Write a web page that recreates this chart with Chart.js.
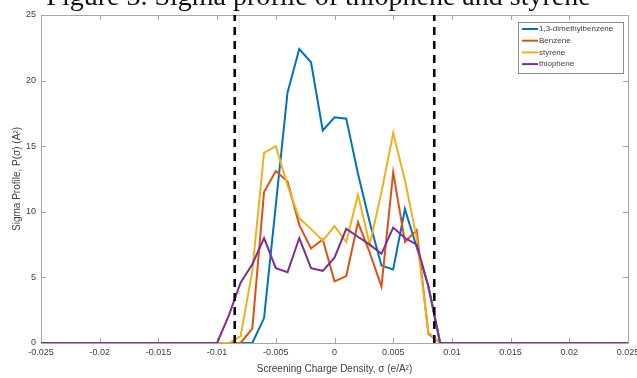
<!DOCTYPE html>
<html>
<head>
<meta charset="utf-8">
<script src="https://cdn.jsdelivr.net/npm/chart.js@4/dist/chart.umd.min.js"></script>
<style>
  html, body { margin: 0; padding: 0; background: #fff; }
  #wrap { position: relative; width: 637px; height: 378px; overflow: hidden; }
  #caption {
    position: absolute; left: 0; width: 637px; top: -20px; text-align: center;
    font-family: "Liberation Serif", "Times New Roman", serif; font-size: 28px; line-height: 32px; color: #111;
    white-space: nowrap; pointer-events: none;
  }
</style>
</head>
<body>
<div id="wrap">
  <canvas id="chart" width="637" height="378"></canvas>
  <div id="caption">Figure 3. Sigma profile of thiophene and styrene</div>
</div>
<script>
  // screening charge density grid (e/A^2)
  const sigma = [-0.025, -0.010, -0.009, -0.008, -0.007, -0.006, -0.005, -0.004, -0.003, -0.002, -0.001, 0,
    0.001, 0.002, 0.003, 0.004, 0.005, 0.006, 0.007, 0.008, 0.009, 0.010, 0.025];

  const dimethylbenzene = [0, 0, 0, 0, 0, 1.9, 10.5, 19.1, 22.4, 21.4, 16.2, 17.2,
    17.1, 12.9, 9.2, 5.9, 5.6, 10.2, 7.3, 4.3, 0, 0, 0];
  const benzene = [0, 0, 0, 0, 1.1, 11.5, 13.1, 12.3, 9.0, 7.2, 7.9, 4.7,
    5.1, 9.2, 6.9, 4.3, 13.0, 7.7, 8.6, 0.7, 0, 0, 0];
  const styrene = [0, 0, 0, 0.5, 5.5, 14.5, 15.0, 12.0, 9.5, 8.7, 7.8, 8.9,
    7.7, 11.3, 7.5, 11.5, 16.0, 12.4, 8.0, 0.8, 0, 0, 0];
  const thiophene = [0, 0, 2.1, 4.6, 6.0, 8.0, 5.7, 5.4, 8.0, 5.7, 5.5, 6.5,
    8.7, 8.1, 7.5, 6.8, 8.8, 8.0, 7.5, 4.3, 0, 0, 0];

  const seriesNames = ['1,3-dimethylbenzene', 'Benzene', 'styrene', 'thiophene'];
  const cutoffs = [-0.0085, 0.0085];
  const yRange = [0, 25];

  const xTicks = [-0.025, -0.02, -0.015, -0.01, -0.005, 0, 0.005, 0.01, 0.015, 0.02, 0.025];
  const xTickLabels = ['-0.025', '-0.02', '-0.015', '-0.01', '-0.005', '0', '0.005', '0.01', '0.015', '0.02', '0.025'];
  const yTicks = [0, 5, 10, 15, 20, 25];

  const colors = ['#0072BD', '#D95319', '#EDB120', '#7E2F8E'];
  const axisGray = '#a6a6a6';
  const textGray = '#404040';
  const fontFamily = '"Liberation Sans", Arial, sans-serif';

  const toPoints = (values) => values.map((v, i) => ({ x: sigma[i], y: v }));

  const datasets = [dimethylbenzene, benzene, styrene, thiophene].map((values, i) => ({
    label: seriesNames[i],
    data: toPoints(values),
    borderColor: colors[i],
    backgroundColor: colors[i],
    borderWidth: 2,
    pointRadius: 0,
    tension: 0,
    order: 4 - i
  }));

  cutoffs.forEach((c) => {
    datasets.push({
      label: 'cutoff',
      data: yRange.map((y) => ({ x: c, y })),
      borderColor: '#000',
      borderWidth: 2.5,
      borderDash: [8, 6],
      pointRadius: 0,
      order: 0
    });
  });

  // MATLAB-like box with inward ticks
  const boxPlugin = {
    id: 'box',
    beforeDatasetsDraw(chart) {
      const { ctx, chartArea: a, scales } = chart;
      ctx.save();
      ctx.strokeStyle = axisGray;
      ctx.lineWidth = 1;
      ctx.strokeRect(a.left + 0.5, a.top + 0.5, a.right - a.left, a.bottom - a.top);
      ctx.beginPath();
      xTicks.forEach((v) => {
        const px = Math.round(scales.x.getPixelForValue(v)) + 0.5;
        ctx.moveTo(px, a.bottom); ctx.lineTo(px, a.bottom - 5);
        ctx.moveTo(px, a.top); ctx.lineTo(px, a.top + 5);
      });
      yTicks.forEach((v) => {
        const py = Math.round(scales.y.getPixelForValue(v)) + 0.5;
        ctx.moveTo(a.left, py); ctx.lineTo(a.left + 5, py);
        ctx.moveTo(a.right, py); ctx.lineTo(a.right - 5, py);
      });
      ctx.stroke();
      ctx.restore();
    }
  };

  const legendPlugin = {
    id: 'boxLegend',
    afterDraw(chart) {
      const { ctx, chartArea: a } = chart;
      const w = 105, h = 51;
      const x0 = a.right - w - 5, y0 = a.top + 7;
      ctx.save();
      ctx.fillStyle = '#fff';
      ctx.fillRect(x0, y0, w, h);
      ctx.strokeStyle = '#8c8c8c';
      ctx.lineWidth = 1;
      ctx.strokeRect(x0 + 0.5, y0 + 0.5, w, h);
      ctx.font = '8px ' + fontFamily;
      ctx.textBaseline = 'middle';
      chart.data.datasets.slice(0, 4).forEach((ds, i) => {
        const y = y0 + 7 + i * 11.7;
        ctx.strokeStyle = ds.borderColor;
        ctx.lineWidth = 2;
        ctx.beginPath();
        ctx.moveTo(x0 + 4, y); ctx.lineTo(x0 + 20, y);
        ctx.stroke();
        ctx.fillStyle = textGray;
        ctx.fillText(ds.label, x0 + 21, y);
      });
      ctx.restore();
    }
  };

  new Chart(document.getElementById('chart'), {
    type: 'line',
    data: { datasets },
    options: {
      responsive: false,
      animation: false,
      layout: { padding: { top: 15, right: 9, left: 0, bottom: 0 } },
      plugins: { legend: { display: false }, tooltip: { enabled: false } },
      scales: {
        x: {
          type: 'linear',
          min: -0.025,
          max: 0.025,
          afterBuildTicks: (scale) => { scale.ticks = xTicks.map((v) => ({ value: v })); },
          afterFit: (scale) => {
            scale.height = 35;
            scale.paddingLeft = 0;
            scale.paddingRight = 0;
          },
          grid: { display: false, drawTicks: false },
          border: { display: false },
          ticks: {
            autoSkip: false,
            maxRotation: 0,
            padding: 4,
            color: textGray,
            font: { family: fontFamily, size: 9 },
            callback: (v, i) => xTickLabels[i]
          },
          title: {
            display: true,
            text: 'Screening Charge Density, σ (e/A²)',
            color: textGray,
            font: { family: fontFamily, size: 10 },
            padding: { top: 0, bottom: 3 }
          }
        },
        y: {
          min: 0,
          max: 25,
          afterBuildTicks: (scale) => { scale.ticks = yTicks.map((v) => ({ value: v })); },
          afterFit: (scale) => { scale.width = 41; },
          grid: { display: false, drawTicks: false },
          border: { display: false },
          ticks: {
            padding: 5,
            color: textGray,
            font: { family: fontFamily, size: 9 }
          },
          title: {
            display: true,
            text: 'Sigma Profile, P(σ) (A²)',
            color: textGray,
            font: { family: fontFamily, size: 10 },
            padding: { top: 11, bottom: 0 }
          }
        }
      }
    },
    plugins: [boxPlugin, legendPlugin]
  });
</script>
</body>
</html>
